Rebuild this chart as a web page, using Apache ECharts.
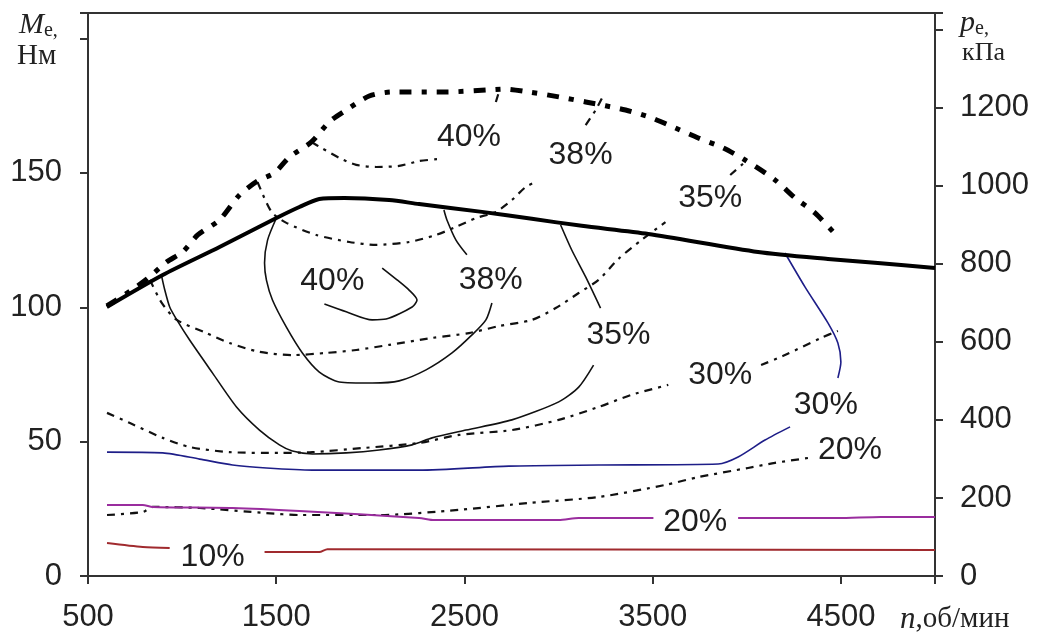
<!DOCTYPE html>
<html>
<head>
<meta charset="utf-8">
<script src="https://cdn.jsdelivr.net/npm/echarts@6/dist/echarts.min.js"></script>
<style>
  html, body { margin: 0; padding: 0; background: #fff; }
  #chart { width: 1039px; height: 639px; }
</style>
</head>
<body>
<div id="chart"></div>
<script>
// Axis ranges and tick labels
const xTicks = [500, 1500, 2500, 3500, 4500];
const torqueTicks = [0, 50, 100, 150];
const pressureTicks = [0, 200, 400, 600, 800, 1000, 1200];

// Full-load torque curve, n [rpm] vs Me [N·m]
const fullLoad = [[600,100.1],[897,112.0],[1199,122.4],[1501,133.2],[1623,137.3],[1729,140.3],[1862,140.7],[2100,139.9],[2259,138.4],[2593,135.5],[2858,132.9],[3123,130.3],[3477,127.3],[4060,120.6],[4431,118.0],[4696,116.5],[5000,114.6]];

// Upper (boosted) full-load curve
const boostLimit = [[600,100.5],[733,106.4],[813,110.5],[919,116.9],[1003,120.6],[1083,126.9],[1199,132.5],[1305,141.8],[1401,147.0],[1491,150.0],[1570,155.9],[1687,161.5],[1782,169.0],[1872,173.4],[1994,178.6],[2116,180.1],[2402,180.1],[2630,180.9],[2709,181.2],[2842,180.1],[3001,178.3],[3144,176.4],[3356,173.4],[3493,170.5],[3621,166.7],[3742,163.0],[3875,159.3],[3991,154.8],[4150,147.4],[4256,140.7],[4362,135.1],[4474,126.9]];

// Efficiency contours, solid family
const eff40Solid = [[1756,101.2],[1872,98.3],[2010,95.3],[2084,95.6],[2222,100.1],[2248,102.7],[2206,106.4],[2142,110.2],[2063,114.6]];
const eff38SolidA = [[1501,133.2],[1454,125.0],[1438,116.5],[1448,110.1],[1480,102.7],[1554,92.6],[1639,83.0],[1729,75.9],[1835,72.2],[2010,71.8],[2153,72.6],[2296,76.7],[2434,83.0],[2540,89.7],[2614,95.3],[2646,101.6]];
const eff38SolidB = [[2513,119.5],[2455,125.0],[2407,132.5],[2391,136.2]];
const eff35SolidA = [[892,111.3],[908,106.4],[934,100.1],[972,95.3],[1040,87.8],[1162,75.5],[1289,62.9],[1411,54.3],[1517,48.8],[1586,46.5],[1692,45.4],[1872,45.8],[2047,46.9],[2222,48.8],[2328,51.4],[2508,54.3],[2752,58.1],[3001,64.8],[3107,70.3],[3186,78.5]];
const eff35SolidB = [[3223,99.7],[3144,111.3],[3070,121.3],[3011,130.6]];
const eff30BlueA = [[601,46.1],[897,45.8],[1093,43.5],[1268,41.3],[1448,40.2],[1692,39.4],[2259,39.4],[2736,40.9],[3213,41.3],[3848,41.7],[3954,44.3],[4097,50.6],[4230,55.5]];
const eff30BlueB = [[4484,73.7],[4500,79.6],[4484,86.7],[4431,94.2],[4309,107.6],[4203,120.2]];
const eff20PurpleA = [[601,26.4],[791,26.4],[844,25.7],[1268,25.3],[1623,24.2],[2259,21.6],[2339,20.8],[3001,20.8],[3107,21.6],[3504,21.6]];
const eff20PurpleB = [[3954,21.6],[4484,21.6],[4712,22.0],[5000,22.0]];
const eff10RedA = [[601,12.3],[791,10.8],[934,10.4]];
const eff10RedB = [[1438,8.9],[1729,8.9],[1772,10.0],[5000,9.7]];

// Efficiency contours, dashed family
const eff40DashA = [[1687,161.5],[1740,159.3],[1835,155.6],[1925,153.0],[2031,152.2],[2153,152.6],[2259,154.4],[2365,155.2]];
const eff40DashB = [[2667,176.4],[2683,180.1]];
const eff38DashA = [[1401,146.6],[1475,135.5],[1554,131.4],[1713,126.9],[1888,124.3],[2031,123.2],[2206,124.3],[2349,126.9],[2455,129.9],[2561,133.2],[2667,135.5],[2752,139.9],[2826,144.8],[2879,146.6]];
const eff38DashB = [[3144,167.8],[3197,173.4],[3239,179.0]];
const eff35DashA = [[829,110.2],[892,101.6],[972,95.3],[1130,90.4],[1252,86.7],[1411,83.4],[1586,82.2],[1766,83.0],[1925,84.1],[2100,86.0],[2328,88.6],[2524,90.4],[2683,93.0],[2858,95.3],[2985,99.7],[3107,105.3],[3213,110.2],[3318,118.0],[3440,125.0],[3568,131.7]];
const eff35DashB = [[3912,149.2],[3991,154.1]];
const eff30DashA = [[601,60.7],[723,56.9],[897,51.4],[1040,48.0],[1252,46.1],[1517,45.8],[1692,46.1],[1957,47.6],[2259,49.5],[2471,52.5],[2752,54.3],[3001,58.1],[3213,62.9],[3387,67.4],[3583,71.1]];
const eff30DashB = [[4076,78.5],[4203,82.2],[4394,88.6],[4484,91.2]];
const eff20Dash = [[601,22.7],[791,23.8],[844,25.7],[1093,25.3],[1448,23.4],[1623,22.7],[2047,22.7],[2471,24.6],[2842,27.2],[3213,29.4],[3568,33.9],[3742,36.8],[4007,40.2],[4150,42.1],[4325,43.9]];

// Contour labels: [n, Me, text]
const contourLabels = [
  [2524,163.4,'40%'],[3117,156.7,'38%'],[3806,140.7,'35%'],
  [1798,109.8,'40%'],[2640,110.2,'38%'],[3318,89.7,'35%'],
  [3859,74.8,'30%'],[4420,63.6,'30%'],[4548,46.9,'20%'],
  [3726,20.1,'20%'],[1162,7.1,'10%']
];

const TORQUE_MAX = 209.5;
const PRESSURE_MAX = 1443;

const chart = echarts.init(document.getElementById('chart'), null, { renderer: 'canvas' });

const axisColor = '#333';
const serif = 'Liberation Serif, Times New Roman, serif';
const tickFont = { fontFamily: 'Liberation Sans, Arial, sans-serif', fontSize: 31, color: '#222' };

function lineSeries(data, color, width, type, z) {
  return {
    type: 'line', data: data, xAxisIndex: 0, yAxisIndex: 0,
    showSymbol: false, symbol: 'none', smooth: 0.25, silent: true,
    z: z || 3,
    lineStyle: { color: color, width: width, type: type || 'solid', cap: 'butt', join: 'round' }
  };
}

const thinDash = [8, 6, 3, 6];
const thickDash = [12, 10, 5, 10];

const series = [
  lineSeries(eff20Dash, '#111', 2.2, thinDash),
  lineSeries(eff30DashA, '#111', 2.2, thinDash),
  lineSeries(eff30DashB, '#111', 2.2, thinDash),
  lineSeries(eff35DashA, '#111', 2.2, thinDash),
  lineSeries(eff35DashB, '#111', 2.2, thinDash),
  lineSeries(eff38DashA, '#111', 2.2, thinDash),
  lineSeries(eff38DashB, '#111', 2.2, thinDash),
  lineSeries(eff40DashA, '#111', 2.2, thinDash),
  lineSeries(eff40DashB, '#111', 2.2, thinDash),
  lineSeries(eff10RedA, '#a02a2e', 2, 'solid'),
  lineSeries(eff10RedB, '#a02a2e', 2, 'solid'),
  lineSeries(eff20PurpleA, '#9a2d9e', 2, 'solid'),
  lineSeries(eff20PurpleB, '#9a2d9e', 2, 'solid'),
  lineSeries(eff30BlueA, '#1e1e88', 1.6, 'solid'),
  lineSeries(eff30BlueB, '#1e1e88', 1.6, 'solid'),
  lineSeries(eff35SolidA, '#111', 1.6, 'solid'),
  lineSeries(eff35SolidB, '#111', 1.6, 'solid'),
  lineSeries(eff38SolidA, '#111', 1.6, 'solid'),
  lineSeries(eff38SolidB, '#111', 1.6, 'solid'),
  lineSeries(eff40Solid, '#111', 1.6, 'solid'),
  lineSeries(boostLimit, '#000', 5, thickDash, 4),
  lineSeries(fullLoad, '#000', 4, 'solid', 5),
  {
    type: 'scatter', xAxisIndex: 0, yAxisIndex: 0, silent: true, z: 6,
    data: contourLabels,
    symbol: 'circle',
    symbolSize: 1,
    itemStyle: { color: '#fff', opacity: 1 },
    label: {
      show: true, position: 'inside',
      formatter: p => p.value[2],
      fontFamily: 'Liberation Sans, Arial, sans-serif', fontSize: 32,
      color: '#1e1e1e', opacity: 1, textBorderWidth: 0, textBorderColor: 'transparent'
    }
  }
];

const option = {
  animation: false,
  backgroundColor: '#fff',
  grid: { left: 88, right: 104, top: 13, bottom: 63, show: true, borderColor: axisColor, borderWidth: 2, backgroundColor: 'transparent' },
  xAxis: {
    type: 'value', min: 500, max: 5000, interval: 1000,
    axisLine: { show: true, lineStyle: { color: axisColor, width: 2 } },
    axisTick: { show: true, inside: false, length: 8, lineStyle: { color: axisColor, width: 2 } },
    splitLine: { show: false },
    axisLabel: Object.assign({ margin: 26, formatter: v => xTicks.includes(v) ? String(v) : '' }, tickFont)
  },
  yAxis: [
    {
      type: 'value', position: 'left', min: 0, max: TORQUE_MAX, interval: 50,
      axisLine: { show: true, lineStyle: { color: axisColor, width: 2 } },
      axisTick: { show: true, inside: false, length: 8, lineStyle: { color: axisColor, width: 2 } },
      splitLine: { show: false },
      axisLabel: Object.assign({ margin: 26, formatter: v => torqueTicks.includes(v) ? String(v) : '' }, tickFont)
    },
    {
      type: 'value', position: 'right', min: 0, max: PRESSURE_MAX, interval: 200,
      axisLine: { show: true, lineStyle: { color: axisColor, width: 2 } },
      axisTick: { show: true, inside: false, length: 8, lineStyle: { color: axisColor, width: 2 } },
      splitLine: { show: false },
      axisLabel: Object.assign({ margin: 25, formatter: v => pressureTicks.includes(v) ? String(v) : '' }, tickFont)
    }
  ],
  graphic: [
    {
      type: 'text', left: 19, top: 10,
      style: {
        text: '{i|M}{s|e,}',
        rich: {
          i: { fontFamily: serif, fontStyle: 'italic', fontSize: 30, fill: '#222' },
          s: { fontFamily: serif, fontSize: 20, fill: '#222', padding: [12, 0, 0, 0] }
        }
      }
    },
    {
      type: 'text', left: 17, top: 42,
      style: { text: 'Нм', fontFamily: serif, fontSize: 29, fill: '#222' }
    },
    {
      type: 'text', left: 960, top: 8,
      style: {
        text: '{i|p}{s|e,}',
        rich: {
          i: { fontFamily: serif, fontStyle: 'italic', fontSize: 30, fill: '#222' },
          s: { fontFamily: serif, fontSize: 20, fill: '#222', padding: [12, 0, 0, 0] }
        }
      }
    },
    {
      type: 'text', left: 962, top: 40,
      style: { text: 'кПа', fontFamily: serif, fontSize: 26, fill: '#222' }
    },
    {
      type: 'text', left: 900, top: 604,
      style: {
        text: '{i|n}{r|,об/мин}',
        rich: {
          i: { fontFamily: serif, fontStyle: 'italic', fontSize: 31, fill: '#222' },
          r: { fontFamily: serif, fontSize: 29, fill: '#222' }
        }
      }
    }
  ],
  series: series
};

chart.setOption(option);
</script>
</body>
</html>
